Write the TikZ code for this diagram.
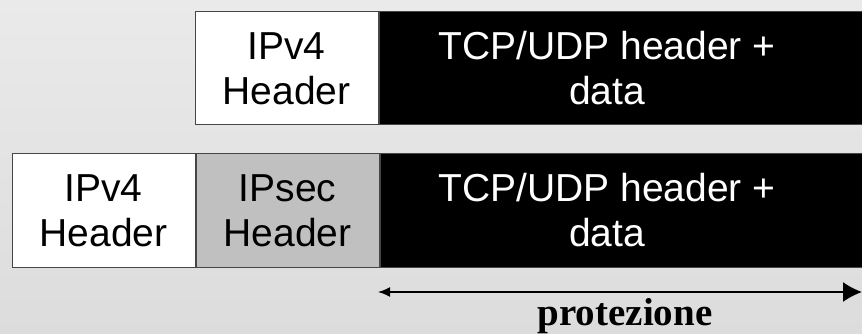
\documentclass[tikz,border=0pt]{standalone}
\usepackage{fontspec}
\setmainfont{Liberation Sans}
\newfontfamily\protfont{Liberation Serif}
\usetikzlibrary{arrows.meta,positioning}
\definecolor{sfondosu}{RGB}{234,234,234}
\definecolor{sfondogiu}{RGB}{220,220,220}
\definecolor{ipsecgrigio}{RGB}{192,192,192}
\definecolor{bordo}{RGB}{70,70,70}
\tikzset{campo/.style={draw=bordo,line width=1pt,rectangle,inner sep=0pt,
    minimum width=183pt,minimum height=113pt,align=center,
    font=\fontsize{39}{45}\selectfont}}
\tikzset{testo/.style={inner sep=0pt,align=center,text=white,
    font=\fontsize{39}{45}\selectfont}}

\begin{document}
\begin{tikzpicture}[x=1pt,y=-1pt]%
        \shade[top color=sfondosu,bottom color=sfondogiu] (0,0) rectangle (862,334);%%
        \useasboundingbox (0,0) rectangle (862,334);%%
        \clip (0,0) rectangle (862,334);%%
        % pacchetto originale
        \node[campo,fill=white] (ip1) at (286.5,68.5) {IPv4\\Header}; %%
        \node[campo,fill=black,minimum width=520pt,anchor=west] (dati1) at (ip1.east) {}; %%
        \node[testo] (dati1t) at (607,68.5) {TCP/UDP header +\\data}; %%
        % pacchetto con IPsec
        \node[campo,fill=white] (ip2) at (103.5,210.5) {IPv4\\Header}; %%
        \node[campo,fill=ipsecgrigio,right=0pt of ip2] (sec2) {IPsec\\Header}; %%
        \node[campo,fill=black,minimum width=520pt,anchor=west] (dati2) at (sec2.east) {}; %%
        \node[testo] (dati2t) at (607,210.5) {TCP/UDP header +\\data}; %%
        % protezione
        \coordinate (pa) at (378,292); %%
        \coordinate (pb) at (862,292); %%
        \draw[{Latex[length=12pt,width=10pt]}-{Latex[length=19pt,width=20pt]},line width=1.7pt] (pa)--(pb); %%
        \node[font=\protfont\bfseries\fontsize{39}{45}\selectfont,anchor=base,inner sep=0pt] (prot) at (625,325) {protezione}; %%
\end{tikzpicture}
\end{document}
